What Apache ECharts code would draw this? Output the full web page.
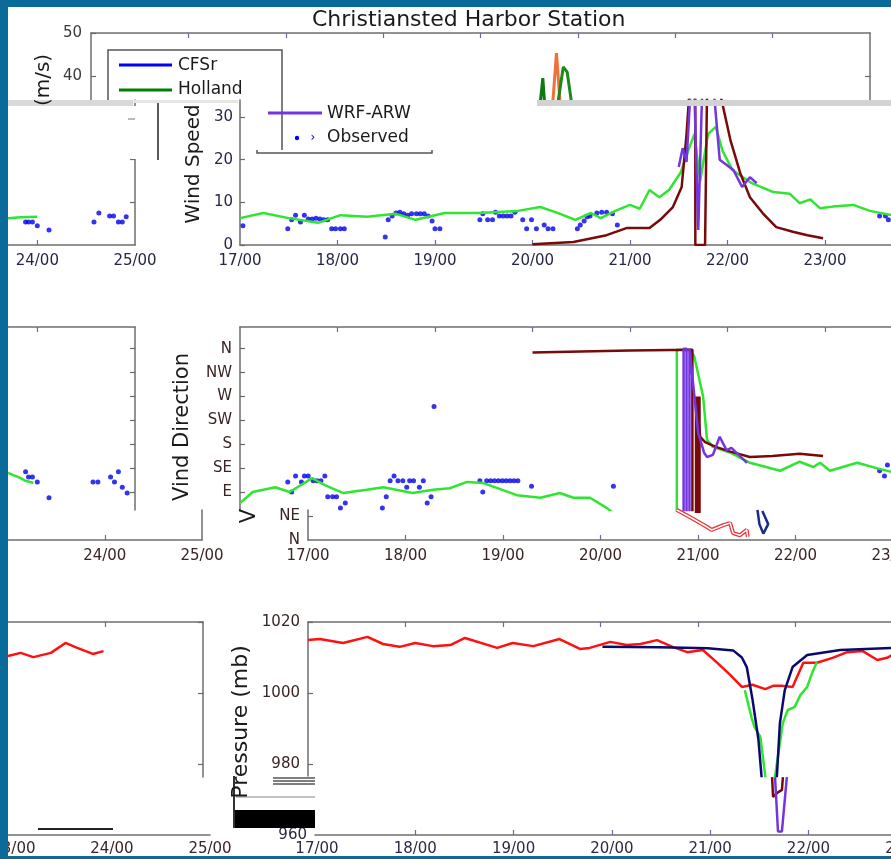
<!DOCTYPE html>
<html>
<head>
<meta charset="utf-8">
<script src="https://cdn.jsdelivr.net/npm/echarts@6/dist/echarts.min.js"></script>
<style>
html, body { margin: 0; padding: 0; background: #fff; }
#chart { width: 891px; height: 859px; }
</style>
</head>
<body>
<div id="chart"></div>
<script>
// ---- data (days since month start, e.g. 21.5 = 21/12h) ----
// top (mostly hidden) wind speed panel
var topDkGreenT = [20.61, 20.64, 20.66];
var topDkGreenV = [33, 39.5, 33];
var topOrangeT = [20.74, 20.78, 20.82];
var topOrangeV = [33, 45.3, 33];
var topGreenT = [20.79, 20.85, 20.89, 20.94];
var topGreenV = [33, 42.1, 40.9, 33];

// wind speed (m/s)
var spdHollT = [17.0, 17.24, 17.5, 17.8, 18.03, 18.3, 18.6, 18.8, 19.1, 19.45, 19.85, 20.08, 20.25, 20.44, 20.6, 20.7, 20.85, 21.0, 21.1, 21.2, 21.3, 21.4, 21.52, 21.6, 21.66, 21.72, 21.8, 21.88, 21.95, 22.05, 22.25, 22.47, 22.64, 22.74, 22.85, 22.95, 23.08, 23.29, 23.46, 23.68];
var spdHollV = [6.3, 7.5, 6.3, 5.2, 7.0, 6.6, 7.3, 5.9, 7.5, 7.5, 8.0, 8.9, 7.6, 5.9, 7.5, 6.3, 8.0, 9.4, 8.5, 12.9, 11.2, 12.9, 17.0, 22.3, 26, 15, 26, 27.7, 22, 17.6, 14.5, 12.4, 12, 9.8, 10.7, 8.6, 9.0, 9.4, 8.0, 7.0];
var spdMarT = [20.0, 20.42, 20.76, 20.97, 21.2, 21.31, 21.44, 21.53, 21.58, 21.61, 21.67, 21.67, 21.77, 21.79, 21.92, 22.03, 22.13, 22.23, 22.36, 22.5, 22.67, 22.82, 22.98];
var spdMarV = [0.2, 0.7, 2.3, 4.0, 4.0, 5.9, 8.9, 13.6, 26, 36, 36, 0, 0, 36, 36, 24.6, 16.9, 11.2, 7.5, 4.2, 3.1, 2.3, 1.6];
var spdWrfT = [21.5, 21.54, 21.58, 21.62, 21.66, 21.7, 21.74, 21.8, 21.86, 21.92, 22.06, 22.15, 22.23, 22.3];
var spdWrfV = [18.3, 22.7, 19.5, 36, 36, 3.5, 36, 36, 36, 20, 17.6, 13.6, 15.9, 14.5];
var spdObsT = [17.03, 17.49, 17.53, 17.57, 17.62, 17.66, 17.70, 17.74, 17.78, 17.82, 17.86, 17.90, 17.94, 17.98, 18.03, 18.07, 18.49, 18.52, 18.56, 18.60, 18.64, 18.68, 18.72, 18.76, 18.81, 18.85, 18.89, 18.93, 18.97, 19.00, 19.05, 19.46, 19.49, 19.54, 19.59, 19.62, 19.66, 19.70, 19.74, 19.78, 19.82, 19.90, 19.94, 19.99, 20.04, 20.12, 20.16, 20.21, 20.46, 20.49, 20.53, 20.56, 20.59, 20.66, 20.71, 20.76, 20.82, 20.87, 23.56, 23.62, 23.65];
var spdObsV = [4.5, 3.8, 5.9, 7.0, 5.4, 7.0, 6.1, 6.1, 6.3, 6.1, 5.9, 5.9, 3.8, 3.8, 3.8, 3.8, 1.9, 5.9, 6.8, 7.5, 7.7, 7.3, 7.0, 7.3, 7.3, 7.3, 7.3, 6.8, 5.6, 3.8, 3.8, 5.9, 7.3, 5.9, 5.9, 7.7, 6.8, 6.8, 6.8, 6.8, 7.7, 5.9, 3.8, 5.9, 3.8, 4.7, 3.8, 3.8, 3.8, 4.7, 5.6, 6.6, 6.8, 7.5, 7.7, 7.7, 7.3, 4.7, 6.8, 6.8, 5.9];
var spdLeftHollT = [23.70, 23.83, 24.0];
var spdLeftHollV = [6.3, 6.5, 6.6];
var spdLeftObsT = [23.88, 23.91, 23.95, 24.0, 24.12, 24.58, 24.63, 24.74, 24.78, 24.83, 24.87, 24.91];
var spdLeftObsV = [5.4, 5.4, 5.4, 4.5, 3.5, 5.4, 7.5, 6.8, 6.8, 5.4, 5.4, 6.6];

// wind direction (degrees)
var dirHollT = [17.0, 17.13, 17.36, 17.51, 17.74, 17.87, 18.06, 18.3, 18.47, 18.77, 18.98, 19.15, 19.33, 19.49, 19.84, 20.08, 20.28, 20.42, 20.59, 20.76, 20.9, 21.48, 21.48, 21.62, 21.66, 21.75, 21.79, 21.85, 22.03, 22.23, 22.54, 22.74, 22.88, 22.95, 23.05, 23.33, 23.53, 23.68];
var dirHollV = [69, 90, 99, 90, 116, 103, 88, 94, 99, 88, 94, 97, 109, 107, 84, 79, 88, 79, 79, 60, 40, 40, 358, 358, 345, 270, 188, 175, 164, 145, 130, 147, 137, 145, 130, 145, 135, 128];
var dirMarT = [20.0, 20.5, 21.0, 21.64, 21.64, 21.70, 21.70, 21.72, 21.77, 21.88, 22.03, 22.23, 22.46, 22.74, 22.98];
var dirMarV = [353, 355, 356.5, 358, 40, 40, 230, 194, 184, 175, 166, 156, 158, 162, 158];
var dirMarBarT = [21.695, 21.695];
var dirMarBarV = [40, 270];
var dirWrfT = [21.55, 21.55, 21.58, 21.58, 21.61, 21.61, 21.63, 21.7, 21.76, 21.79, 21.85, 21.92, 21.99, 22.04, 22.2];
var dirWrfV = [40, 360, 360, 40, 40, 360, 360, 201, 164, 156, 160, 194, 169, 173, 145];
var dirObsT = [17.49, 17.53, 17.57, 17.63, 17.66, 17.70, 17.75, 17.79, 17.83, 17.87, 17.90, 17.95, 17.99, 18.03, 18.08, 18.46, 18.50, 18.54, 18.58, 18.62, 18.67, 18.71, 18.74, 18.78, 18.84, 18.88, 18.92, 18.96, 18.99, 19.46, 19.49, 19.53, 19.57, 19.61, 19.65, 19.69, 19.73, 19.77, 19.81, 19.85, 19.99, 20.83, 23.56, 23.61, 23.64];
var dirObsV = [109, 90, 120, 109, 120, 120, 111, 111, 111, 120, 81, 81, 81, 60, 69, 60, 81, 111, 120, 111, 111, 99, 111, 111, 99, 111, 69, 81, 251, 111, 90, 111, 111, 111, 111, 111, 111, 111, 111, 111, 101, 101, 130, 120, 141];
var dirLeftHollT = [23.70, 23.83, 23.88, 23.96];
var dirLeftHollV = [126, 116, 111, 107];
var dirLeftObsT = [23.88, 23.91, 23.95, 24.0, 24.12, 24.57, 24.62, 24.75, 24.79, 24.83, 24.87, 24.92];
var dirLeftObsV = [128, 118, 118, 109, 79, 109, 109, 118, 109, 128, 99, 88];
// lower strip of the direction panel
var dirLowRedT = [20.78, 20.92, 21.09, 21.14, 21.26, 21.33, 21.36, 21.43, 21.50, 21.51];
var dirLowRedV = [57, 43, 25, 19, 28, 32, 13, 9, 19, 6];
var dirLowNavyT = [21.61, 21.63, 21.67, 21.72, 21.66];
var dirLowNavyV = [57, 30, 12, 30, 55];

// pressure (mb)
var presObsT = [17.0, 17.12, 17.36, 17.61, 17.77, 17.94, 18.10, 18.28, 18.46, 18.61, 18.94, 19.10, 19.31, 19.58, 19.79, 19.89, 20.10, 20.27, 20.41, 20.58, 20.74, 20.89, 21.05, 21.19, 21.33, 21.45, 21.56, 21.69, 21.77, 21.87, 21.97, 22.08, 22.22, 22.38, 22.53, 22.69, 22.84, 22.94, 22.99];
var presObsV = [1014.9, 1015.2, 1014.1, 1015.8, 1013.8, 1013.0, 1014.1, 1013.2, 1013.5, 1015.5, 1012.7, 1014.1, 1013.2, 1015.2, 1012.4, 1012.7, 1014.4, 1013.5, 1013.8, 1014.9, 1013.0, 1011.5, 1012.1, 1008.7, 1005.1, 1001.7, 1002.3, 1001.1, 1002.0, 1002.0, 1001.7, 1008.5, 1008.5, 1009.9, 1011.5, 1011.8, 1009.3, 1009.9, 1010.7];
var presCfsT = [20.02, 20.6, 21.1, 21.36, 21.45, 21.5, 21.56, 21.62, 21.65, 21.7, 21.76, 21.81, 21.84, 21.89, 21.97, 22.12, 22.46, 22.99];
var presCfsV = [1013, 1012.9, 1012.6, 1012, 1010, 1007.3, 998, 986.8, 977, 960, 960, 977, 991.5, 1000.8, 1007.3, 1010.7, 1012.1, 1012.7];
var presHollT = [21.48, 21.55, 21.58, 21.64, 21.69, 21.72, 21.76, 21.79, 21.87, 21.92, 21.99, 22.05, 22.12, 22.17, 22.22];
var presHollV = [1000.8, 993, 990.4, 987.6, 976.5, 965, 965, 976.5, 991.5, 995.2, 996, 999.4, 1001.7, 1005.6, 1008.7];
var presLowMarT = [21.63, 21.64, 21.68, 21.73, 21.74];
var presLowMarV = [976.3, 970.7, 971.8, 972.7, 976.3];
var presLowWrfT = [21.66, 21.69, 21.73, 21.78];
var presLowWrfV = [976.3, 961, 961, 976.3];
var presLeftT = [23.0, 23.13, 23.26, 23.44, 23.59, 23.71, 23.87, 23.98];
var presLeftV = [1010.4, 1011.3, 1010.1, 1011.3, 1014.1, 1012.7, 1011.0, 1011.8];

// tick values
var dayTicksMain = [17, 18, 19, 20, 21, 22, 23];
var spdTicks = [0, 10, 20, 30];
var dirTicks = [90, 135, 180, 225, 270, 315, 360];
var presTicks = [980, 1000, 1020];
var dirNames = { 0: 'N', 45: 'NE', 90: 'E', 135: 'SE', 180: 'S', 225: 'SW', 270: 'W', 315: 'NW', 360: 'N' };

// ---- helpers ----
var FONT = 'DejaVu Sans';
var BLUE = '#0b6b98';

function pairs(t, v) {
  var out = [];
  for (var i = 0; i < t.length; i++) out.push([t[i], v[i]]);
  return out;
}
function dayLabel(v) { return Math.round(v) + '/00'; }
function plain(v) { return String(Math.round(v)); }

function xAx(g, min, max, pos, ticks, labels, color, margin) {
  return {
    type: 'value', gridIndex: g, min: min, max: max, position: pos,
    axisLine: { show: true, onZero: false, lineStyle: { color: '#6e6e6e', width: 1.5 } },
    axisTick: { show: ticks.length > 0, inside: true, length: 5, customValues: ticks, lineStyle: { color: '#6a6aa0', width: 1.2 } },
    axisLabel: { show: labels.length > 0, customValues: labels, formatter: dayLabel, color: color || '#26264a', fontSize: 15, fontFamily: FONT, margin: margin || 9 },
    splitLine: { show: false }
  };
}
function yAx(g, min, max, pos, ticks, labels, fmt, color, margin) {
  return {
    type: 'value', gridIndex: g, min: min, max: max, position: pos,
    axisLine: { show: true, onZero: false, lineStyle: { color: '#6e6e6e', width: 1.5 } },
    axisTick: { show: ticks.length > 0, inside: true, length: 5, customValues: ticks, lineStyle: { color: '#6a6a6a', width: 1.2 } },
    axisLabel: { show: labels.length > 0, customValues: labels, formatter: fmt || plain, color: color || '#26264a', fontSize: 15, fontFamily: FONT, margin: margin || 8 },
    splitLine: { show: false }
  };
}
function line(name, ax, data, color, width) {
  return {
    name: name, type: 'line', xAxisIndex: ax, yAxisIndex: ax, data: data,
    showSymbol: false, symbol: 'none', clip: true, silent: true, animation: false,
    lineStyle: { color: color, width: width }, itemStyle: { color: color }
  };
}
function dots(name, ax, data) {
  return {
    name: name, type: 'scatter', xAxisIndex: ax, yAxisIndex: ax, data: data,
    symbolSize: 5, clip: true, silent: true, animation: false,
    itemStyle: { color: '#0000ee' }
  };
}
function txt(x, y, s, size, rot, color, align) {
  return {
    type: 'text', x: x, y: y, rotation: rot || 0, z: 120,
    style: { text: s, fontSize: size, fontFamily: FONT, fill: color || '#1a1a1a',
      align: align || 'center', verticalAlign: 'middle', textAlign: align || 'center', textVerticalAlign: 'middle' }
  };
}
function rect(x, y, w, h, fill, z) {
  return { type: 'rect', shape: { x: x, y: y, width: w, height: h }, style: { fill: fill }, z: z || 100, silent: true };
}
function poly(points, color, width, z) {
  return { type: 'polyline', shape: { points: points }, style: { stroke: color, lineWidth: width || 1.5, fill: null }, z: z || 110, silent: true };
}

var DIRC = '#3a2424';
var dirFmt = function (v) { return dirNames[Math.round(v)] || ''; };

var grids = [
  { left: 91, top: 33, width: 779, height: 67 },     // 0 top speed (hidden)
  { left: 8, top: 100, width: 127, height: 145 },    // 1 speed left
  { left: 240, top: 100, width: 651, height: 145 },  // 2 speed main
  { left: 8, top: 327, width: 127, height: 183 },    // 3 dir left
  { left: 240, top: 327, width: 651, height: 183 },  // 4 dir main
  { left: 8, top: 510, width: 194, height: 30 },     // 5 dir lower left
  { left: 308, top: 510, width: 585, height: 30 },   // 6 dir lower main
  { left: 8, top: 622, width: 195, height: 155 },    // 7 pres left
  { left: 308, top: 622, width: 585, height: 154 },  // 8 pres main
  { left: 315, top: 776, width: 600, height: 59 },   // 9 pres lower
  { left: 8, top: 777, width: 202, height: 58 }      // 10 pres lower left
];
grids.forEach(function (g) { g.outerBoundsMode = 'none'; g.containLabel = false; });

var xAxes = [
  xAx(0, 16, 24, 'top', dayTicksMain, []),
  xAx(1, 23.7, 25.0, 'bottom', [24], [24, 25]),
  xAx(2, 17, 23.677, 'bottom', [18, 19, 20, 21, 22, 23], dayTicksMain),
  xAx(3, 23.7, 25.0, 'top', [24], []),
  xAx(4, 17, 23.677, 'top', [18, 19, 20, 21, 22, 23], []),
  xAx(5, 23.005, 25.0, 'bottom', [24], [23, 24, 25], DIRC),
  xAx(6, 17, 23.0, 'bottom', [18, 19, 20, 21, 22], dayTicksMain, DIRC),
  xAx(7, 23.0, 25.0, 'top', [24], []),
  xAx(8, 17, 23.0, 'top', [18, 19, 20, 21, 22, 23], []),
  xAx(9, 16.98, 16.98 + 600 / 98.3, 'bottom', [18, 19, 20, 21, 22], dayTicksMain, '#2a2a40', 7),
  xAx(10, 22.94, 25.0, 'bottom', [], [23, 24, 25], DIRC, 7)
];
var yAxes = [
  yAx(0, 34.4, 50, 'left', [40, 50], [40, 50], null, '#3a3a3a', 9),
  yAx(1, 0, 34, 'right', [10, 20, 30], []),
  yAx(2, 0, 34, 'left', spdTicks, spdTicks, null, '#26264a', 7),
  yAx(3, 56, 401, 'right', dirTicks, []),
  yAx(4, 56, 401, 'left', dirTicks, dirTicks, dirFmt, DIRC, 8),
  yAx(5, 0, 56.7, 'right', [], []),
  yAx(6, 0, 56.7, 'left', [45], [0, 45], dirFmt, DIRC, 8),
  yAx(7, 976.3, 1020, 'right', presTicks, []),
  yAx(8, 976.6, 1020, 'left', presTicks, presTicks, null, DIRC, 8),
  yAx(9, 960, 976.6, 'left', [], [960], null, '#2a2a40', 8),
  yAx(10, 960, 976.6, 'left', [], []),
  yAx(0, 34.4, 50, 'right', [40], [])
];
yAxes[9].axisLine.show = false;
yAxes[10].axisLine.show = false;

var LIME = '#2fe52f';
var MAROON = '#780a0a';
var PURPLE = '#7435e0';
var NAVY = '#0a0a6e';

var series = [
  line('Holland', 0, pairs(topDkGreenT, topDkGreenV), '#0c7a0c', 3),
  line('Other', 0, pairs(topOrangeT, topOrangeV), '#f0703a', 3),
  line('Holland', 0, pairs(topGreenT, topGreenV), '#1a8a1a', 3),

  line('Holland', 1, pairs(spdLeftHollT, spdLeftHollV), LIME, 2.5),
  dots('Observed', 1, pairs(spdLeftObsT, spdLeftObsV)),
  line('Holland', 2, pairs(spdHollT, spdHollV), LIME, 2.5),
  line('Maroon', 2, pairs(spdMarT, spdMarV), MAROON, 2.5),
  line('WRF-ARW', 2, pairs(spdWrfT, spdWrfV), PURPLE, 2.5),
  dots('Observed', 2, pairs(spdObsT, spdObsV)),

  line('Holland', 3, pairs(dirLeftHollT, dirLeftHollV), LIME, 2.5),
  dots('Observed', 3, pairs(dirLeftObsT, dirLeftObsV)),
  line('Holland', 4, pairs(dirHollT, dirHollV), LIME, 2.5),
  line('Maroon', 4, pairs(dirMarT, dirMarV), MAROON, 2.5),
  line('Maroon', 4, pairs(dirMarBarT, dirMarBarV), MAROON, 6),
  line('WRF-ARW', 4, pairs(dirWrfT, dirWrfV), PURPLE, 2.5),
  dots('Observed', 4, pairs(dirObsT, dirObsV)),

  line('Red', 6, pairs(dirLowRedT, dirLowRedV), '#f03030', 4),
  line('Red', 6, pairs(dirLowRedT, dirLowRedV), '#ffffff', 1.5),
  line('Navy', 6, pairs(dirLowNavyT, dirLowNavyV), '#1a2a8a', 2.5),

  line('Observed', 7, pairs(presLeftT, presLeftV), '#ff1010', 2.5),
  line('Observed', 8, pairs(presObsT, presObsV), '#ff1010', 2.5),
  line('Holland', 8, pairs(presHollT, presHollV), LIME, 2.5),
  line('CFSr', 8, pairs(presCfsT, presCfsV), NAVY, 2.5),
  line('Maroon', 9, pairs(presLowMarT, presLowMarV), MAROON, 2.5),
  line('WRF-ARW', 9, pairs(presLowWrfT, presLowWrfV), PURPLE, 2.5)
];

var graphics = [
  // splice bands
  rect(8, 100, 125, 6, '#d9d9d9'),
  rect(133, 100, 105, 3, '#e6e6e6'),
  rect(537, 100, 354, 6, '#d2d2d2'),
  rect(118, 106, 38, 53, '#ffffff', 95),
  poly([[128, 119], [135, 119]], '#777', 1),
  poly([[158, 103], [158, 160]], '#222', 1.5),

  // legend box 1
  poly([[108, 100], [108, 50], [282, 50], [282, 150]], '#555', 1.5),
  poly([[119, 65], [172, 65]], '#0000ff', 3),
  txt(178, 66, 'CFSr', 17, 0, '#1a1a1a', 'left'),
  poly([[119, 90], [172, 90]], '#008000', 3),
  txt(178, 90, 'Holland', 17, 0, '#1a1a1a', 'left'),
  // legend box 2
  poly([[257, 150], [257, 153], [432, 153], [432, 150]], '#555', 1.5),
  poly([[268, 113], [322, 113]], PURPLE, 3),
  txt(327, 114, 'WRF-ARW', 17, 0, '#1a1a1a', 'left'),
  { type: 'circle', shape: { cx: 297, cy: 138, r: 2.2 }, style: { fill: '#0000ee' }, z: 110 },
  txt(313, 138, '\u203A', 12, 0, '#0000aa'),
  txt(327, 138, 'Observed', 17, 0, '#1a1a1a', 'left'),

  // axis names
  txt(44, 80, '(m/s)', 20, Math.PI / 2),
  txt(194, 164, 'Wind Speed', 20, Math.PI / 2),
  txt(183, 427, 'Vind Direction', 21, Math.PI / 2),
  txt(250, 516, 'V', 21, Math.PI / 2),
  txt(241, 722, 'Pressure (mb)', 22, Math.PI / 2),

  // pressure splice fragments
  poly([[273, 778], [315, 778]], '#555', 1.5),
  poly([[273, 781], [315, 781]], '#555', 1.5),
  poly([[273, 784], [315, 784]], '#555', 1.5),
  poly([[236, 797], [315, 797]], '#888', 1),
  poly([[234, 776], [234, 828]], '#333', 2),
  rect(233, 810, 82, 18, '#000000', 105),
  poly([[38, 829], [113, 829]], '#222', 2),

  // slide frame
  rect(0, 0, 891, 7, BLUE, 130),
  rect(0, 0, 8, 859, BLUE, 130),
  rect(0, 856, 891, 3, BLUE, 130)
];

var chart = echarts.init(document.getElementById('chart'));
chart.setOption({
  animation: false,
  backgroundColor: '#ffffff',
  title: {
    text: 'Christiansted Harbor Station', left: 307, top: 4,
    textStyle: { fontSize: 22, fontWeight: 'normal', fontFamily: FONT, color: '#1a1a1a' }
  },
  grid: grids,
  xAxis: xAxes,
  yAxis: yAxes,
  series: series,
  graphic: { elements: graphics }
});
</script>
</body>
</html>
